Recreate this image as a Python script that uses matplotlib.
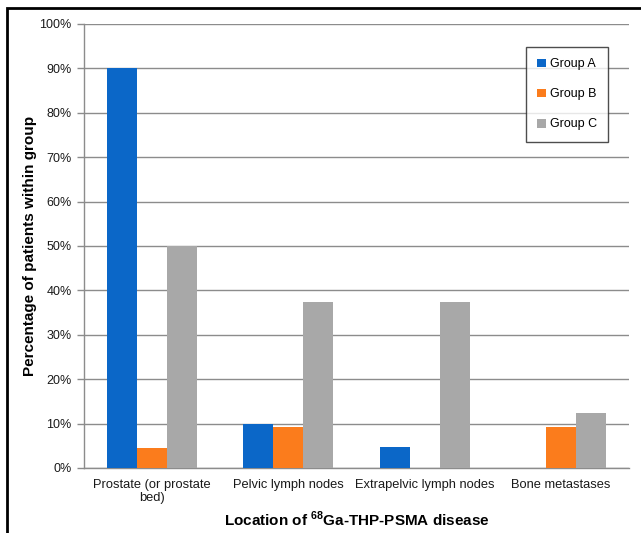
import matplotlib
matplotlib.use("Agg")
import matplotlib.pyplot as plt
import numpy as np
from matplotlib.patches import Rectangle
from matplotlib.ticker import PercentFormatter

plt.rcParams['font.family'] = ['Liberation Sans', 'DejaVu Sans']
plt.rcParams['mathtext.fontset'] = 'custom'
plt.rcParams['mathtext.bf'] = 'Liberation Sans:bold'
plt.rcParams['mathtext.rm'] = 'Liberation Sans'

categories = ["Prostate (or prostate\nbed)", "Pelvic lymph nodes", "Extrapelvic lymph nodes", "Bone metastases"]
groups = ["Group A", "Group B", "Group C"]
group_a = [90.0, 10.0, 4.8, 0.0]
group_b = [4.5, 9.3, 0.0, 9.3]
group_c = [50.0, 37.5, 37.5, 12.5]
colors = ["#0b67c8", "#fb7c1c", "#a8a8a8"]
yticks = list(range(0, 101, 10))

W, H = 641, 533
fig = plt.figure(figsize=(W / 100, H / 100), dpi=100)
ax = fig.add_axes([84 / W, (H - 468) / H, (629 - 84) / W, (468 - 24) / H])

x = np.arange(len(categories))
bw = 0.22
for i, (vals, c, lab) in enumerate(zip([group_a, group_b, group_c], colors, groups)):
    ax.bar(x + (i - 1) * bw, vals, width=bw, color=c, label=lab, zorder=3)

ax.set_xlim(-0.5, len(categories) - 0.5)
ax.set_ylim(0, 100)
ax.set_yticks(yticks)
ax.yaxis.set_major_formatter(PercentFormatter(decimals=0))
ax.grid(axis='y', color='#8c8c8c', linewidth=1.0, zorder=0)
ax.set_xticks(x)
ax.set_xticklabels(categories, fontsize=9.3, color='#1a1a1a', linespacing=1.1)
ax.tick_params(axis='x', length=0, pad=8)
ax.tick_params(axis='y', length=5, width=1, color='#8c8c8c', labelsize=9, labelcolor='#1a1a1a', pad=4)
for s in ['top', 'right']:
    ax.spines[s].set_visible(False)
for s in ['left', 'bottom']:
    ax.spines[s].set_color('#8c8c8c')
    ax.spines[s].set_linewidth(1.0)

ax.set_ylabel("Percentage of patients within group", fontsize=11, fontweight='bold', va='center')
ax.yaxis.set_label_coords((30 - 84) / 545, 0.5)
ax.set_xlabel(r"Location of $^{\mathbf{68}}$Ga-THP-PSMA disease", fontsize=11, fontweight='bold', va='center')
ax.xaxis.set_label_coords(0.5, (468 - 519) / 444)

leg = ax.legend(loc='upper left', bbox_to_anchor=((526 - 84) / 545, (468 - 47) / 444),
                frameon=True, fancybox=False, fontsize=9, handlelength=0.7, handleheight=0.7,
                handletextpad=0.3, labelspacing=1.45, borderpad=0.9, borderaxespad=0)
leg.get_frame().set_edgecolor('#222222')
leg.get_frame().set_linewidth(1.0)

fig.patches.append(Rectangle((7 / W, -0.01), 1.0, (H - 8) / H + 0.01, transform=fig.transFigure,
                             fill=False, edgecolor='black', linewidth=2))

fig.savefig("out.png", dpi=100)
